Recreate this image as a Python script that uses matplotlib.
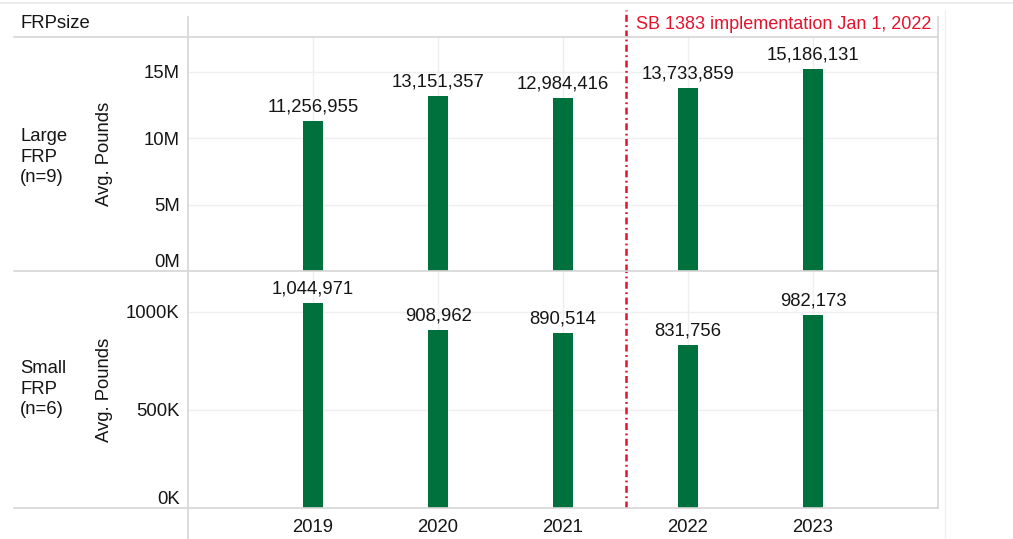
import matplotlib

matplotlib.use("Agg")

import matplotlib.pyplot as plt
from matplotlib.lines import Line2D

plt.rcParams["font.family"] = ["Liberation Sans", "DejaVu Sans"]
plt.rcParams["lines.scale_dashes"] = False

YEARS = ["2019", "2020", "2021", "2022", "2023"]
LARGE_FRP = [11256955, 13151357, 12984416, 13733859, 15186131]
SMALL_FRP = [1044971, 908962, 890514, 831756, 982173]
LARGE_TICKS = [0, 5e6, 10e6, 15e6]
LARGE_TICK_LABELS = ["0M", "5M", "10M", "15M"]
SMALL_TICKS = [0, 500e3, 1000e3]
SMALL_TICK_LABELS = ["0K", "500K", "1000K"]

W, H = 1013, 539
GREEN = "#00703c"
RED = "#e4122d"
BORDER = "#d6d6d6"
GRID = "#efefef"
TEXT = "#151515"
FS = 13.3


def px_rect(x0, y0, x1, y1):
    return [x0 / W, 1 - y1 / H, (x1 - x0) / W, (y1 - y0) / H]


def fig_line(fig, xs, ys, color=BORDER, lw=1.2):
    fig.add_artist(Line2D([x / W for x in xs], [1 - y / H for y in ys],
                          color=color, lw=lw, transform=fig.transFigure))


fig = plt.figure(figsize=(W / 100, H / 100), dpi=100)

x_pos = list(range(1, len(YEARS) + 1))
left, right = 188, 938
dash = (0, (5, 2.5, 1.3, 2.5))

ax_top = fig.add_axes(px_rect(left, 37, right, 271))
ax_bot = fig.add_axes(px_rect(left, 271, right, 508))
ax_head = fig.add_axes(px_rect(left, 10, right, 37))

panels = [
    (ax_top, LARGE_FRP, LARGE_TICKS, LARGE_TICK_LABELS, 17.6e6),
    (ax_bot, SMALL_FRP, SMALL_TICKS, SMALL_TICK_LABELS, 1209e3),
]

for ax, values, ticks, tick_labels, ymax in panels:
    ax.bar(x_pos, values, width=0.16, color=GREEN, zorder=3)
    ax.set_xlim(0, 6)
    ax.set_ylim(0, ymax)
    ax.set_yticks(ticks)
    ax.set_yticklabels(tick_labels, fontsize=FS, color=TEXT)
    ax.get_yticklabels()[0].set_va("bottom")
    ax.tick_params(axis="y", length=0, pad=6)
    ax.set_xticks(x_pos)
    ax.grid(axis="y", color=GRID, lw=1, zorder=0)
    ax.grid(axis="x", color=GRID, lw=1, zorder=0)
    for spine in ax.spines.values():
        spine.set_visible(False)
    ax.set_ylabel("Avg. Pounds", fontsize=FS, color=TEXT)
    ax.yaxis.set_label_coords((113 - left) / (right - left), 0.5)
    for x, v in zip(x_pos, values):
        ax.annotate(f"{v:,}", (x, v), xytext=(0, 4), textcoords="offset points",
                    ha="center", va="bottom", fontsize=FS, color=TEXT)
    ax.axvline(3.5, color=RED, lw=1.8, linestyle=dash, zorder=4)

ax_top.tick_params(axis="x", length=0, labelbottom=False)
ax_bot.set_xticklabels(YEARS, fontsize=FS, color=TEXT)
ax_bot.tick_params(axis="x", length=0, pad=8)

ax_head.set_xlim(0, 6)
ax_head.set_ylim(0, 1)
ax_head.axis("off")
ax_head.axvline(3.5, color=RED, lw=1.8, linestyle=dash)
ax_head.text(3.585, 0.45, "SB 1383 implementation Jan 1, 2022", color=RED,
             fontsize=13.0, ha="left", va="center")

fig.text(20 / W, 1 - 23 / H, "FRPsize", fontsize=FS, color=TEXT, ha="left", va="center")
fig.text(20 / W, 1 - 157 / H, "Large\nFRP\n(n=9)", fontsize=FS, color=TEXT,
         ha="left", va="center", linespacing=1.3)
fig.text(20 / W, 1 - 389 / H, "Small\nFRP\n(n=6)", fontsize=FS, color=TEXT,
         ha="left", va="center", linespacing=1.3)

# table borders
fig_line(fig, [0, W], [3, 3], color="#ececec", lw=1.5)
fig_line(fig, [14, right], [37, 37])
fig_line(fig, [14, right], [271, 271])
fig_line(fig, [14, right], [508, 508])
fig_line(fig, [left, left], [17, H])
fig_line(fig, [right, right], [17, 508])
fig_line(fig, [945, 945], [10, H], color="#f0f0f0", lw=1)

fig.savefig("out.png", dpi=100)
